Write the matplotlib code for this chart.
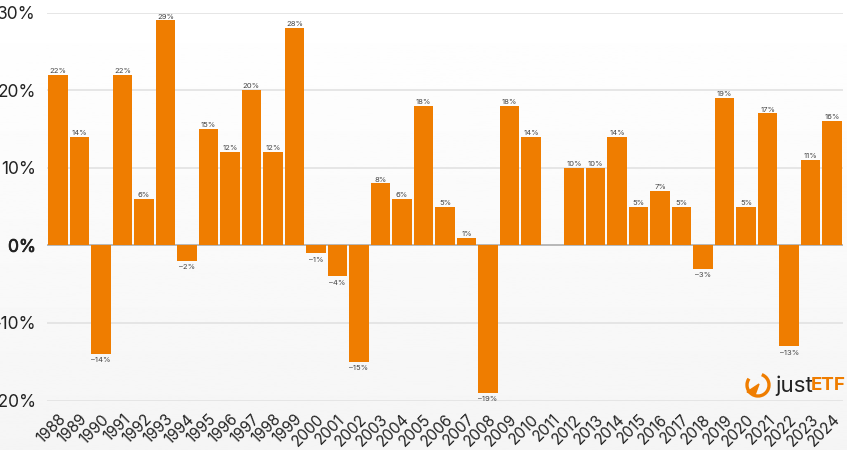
import matplotlib
matplotlib.use("Agg")
import matplotlib.pyplot as plt
from matplotlib.patches import Arc, Polygon
import matplotlib.patheffects as pe
import numpy as np

plt.rcParams['font.family'] = ['Inter', 'DejaVu Sans']

years = list(range(1988, 2025))
returns = [22, 14, -14, 22, 6, 29, -2, 15, 12, 20, 12, 28, -1, -4, -15, 8, 6, 18, 5, 1,
           -19, 18, 14, 0, 10, 10, 14, 5, 7, 5, -3, 19, 5, 17, -13, 11, 16]
yticks = [-20, -10, 0, 10, 20, 30]
ytick_labels = ['\u201320%', '\u201310%', '0%', '10%', '20%', '30%']

W, H = 847, 450
ORANGE = '#ef7d00'

fig = plt.figure(figsize=(W / 100, H / 100), dpi=100)

# background, white at the top fading to light grey
bg = fig.add_axes([0, 0, 1, 1], zorder=0)
bg.imshow(np.linspace(1.0, 0.96, 256).reshape(-1, 1), cmap='gray', vmin=0, vmax=1,
          aspect='auto', extent=[0, W, H, 0])
bg.axis('off')

# pixel box of the plot: bars run x 48-842, 30% at y=12.5, -20% at y=400.5
left, right, top, bottom = 47.1, 842.9, 12.5, 400.5
ax = fig.add_axes([left / W, 1 - bottom / H, (right - left) / W, (bottom - top) / H], zorder=1)
ax.patch.set_alpha(0)

x = np.arange(len(years))
ax.bar(x, returns, width=0.91, color=ORANGE, zorder=3)
ax.set_xlim(-0.5, len(years) - 0.5)
ax.set_ylim(-20, 30)

for spine in ax.spines.values():
    spine.set_visible(False)
ax.set_yticks(yticks)
ax.set_yticklabels(ytick_labels, fontsize=12.5, color='#222222')
ax.get_yticklabels()[2].set_path_effects([pe.withStroke(linewidth=0.5, foreground='#222222')])
ax.grid(axis='y', color='#e2e2e2', linewidth=1.2, zorder=0)
ax.axhline(0, color='#b0b0b0', linewidth=1.2, zorder=2)
ax.tick_params(axis='y', length=0, pad=8)
ax.set_xticks(x)
ax.set_xticklabels(years, rotation=45, ha='right', rotation_mode='anchor',
                   fontsize=11, color='#222222')
ax.tick_params(axis='x', length=0, pad=8)

for xi, val in zip(x, returns):
    if val == 0:
        continue
    label = f'{val}%'.replace('-', '\u2013')
    if val > 0:
        ax.annotate(label, (xi, val), xytext=(0, 0.5), textcoords='offset points',
                    ha='center', va='bottom', fontsize=5.5, color='#444444', zorder=4)
    else:
        ax.annotate(label, (xi, val), xytext=(0, -2.5), textcoords='offset points',
                    ha='center', va='top', fontsize=5.5, color='#444444', zorder=4)

# justETF logo in pixel coordinates
logo = fig.add_axes([0, 0, 1, 1], zorder=2)
logo.set_xlim(0, W)
logo.set_ylim(H, 0)
logo.axis('off')
logo.add_patch(Arc((758, 385), 22, 22, theta1=-70, theta2=215, color=ORANGE, lw=2.4))
logo.add_patch(Polygon([[747, 392], [759, 384], [755, 395]], closed=True, color=ORANGE))
logo.text(775, 386, 'just', fontsize=16, color='#222222', va='center', ha='left')
logo.text(811, 385, 'ETF', fontsize=13.5, color=ORANGE, fontweight='bold', va='center', ha='left')

fig.savefig('out.png', dpi=100)
